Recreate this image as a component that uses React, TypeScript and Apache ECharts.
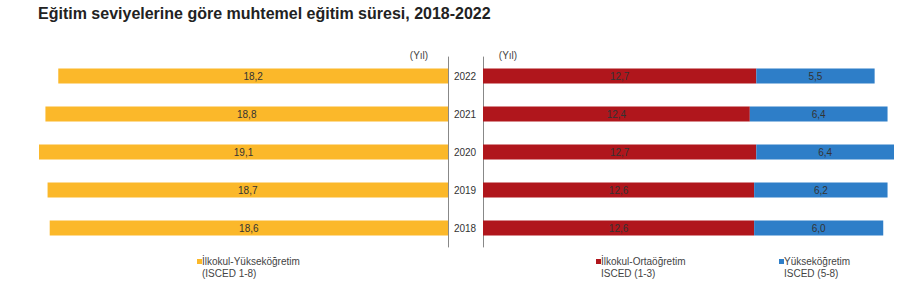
import React, { useEffect, useRef } from "react";
import * as echarts from "echarts";

const years = ["2018", "2019", "2020", "2021", "2022"];
const totalYears = [18.6, 18.7, 19.1, 18.8, 18.2];
const primarySecondary = [12.6, 12.6, 12.7, 12.4, 12.7];
const tertiary = [6.0, 6.2, 6.4, 6.4, 5.5];

const nameTotal = "İlkokul-Yükseköğretim";
const namePS = "İlkokul-Ortaöğretim";
const nameTer = "Yükseköğretim";
const legendSub: Record<string, string> = {
  [nameTotal]: "(ISCED 1-8)",
  [namePS]: "ISCED (1-3)",
  [nameTer]: "ISCED (5-8)",
};

const COLORS: Record<string, string> = {
  [nameTotal]: "#FBB82A",
  [namePS]: "#B0161C",
  [nameTer]: "#2E7EC8",
};

const FONT = "Liberation Sans, Arial, sans-serif";
const fmt = (v: number) => v.toFixed(1).replace(".", ",");

export default function App() {
  const ref = useRef<HTMLDivElement>(null);
  useEffect(() => {
    if (!ref.current) return;
    const chart = echarts.init(ref.current, undefined, { renderer: "svg" });
    const axisMax = Math.max(
      ...totalYears,
      ...primarySecondary.map((v, i) => v + tertiary[i])
    );
    const label = {
      show: true,
      position: "inside",
      color: "#333",
      fontSize: 10,
      fontFamily: FONT,
      formatter: (p: any) => fmt(p.value),
    };
    const legendItem = (name: string, x: number) => ({
      type: "group",
      x,
      y: 259,
      children: [
        { type: "rect", shape: { x: 0, y: 0, width: 5, height: 5 }, style: { fill: COLORS[name] } },
        {
          type: "text",
          x: 5,
          y: -4,
          style: {
            text: `${name}\n${legendSub[name]}`,
            fontSize: 10,
            lineHeight: 12,
            fontFamily: FONT,
            fill: "#444",
            align: "left",
            verticalAlign: "top",
          },
        },
      ],
    });
    const yilStyle = { fontSize: 10, fontFamily: FONT, fill: "#444", align: "center", verticalAlign: "middle" };
    chart.setOption({
      animation: false,
      title: {
        text: "Eğitim seviyelerine göre muhtemel eğitim süresi, 2018-2022",
        left: 33,
        top: 0,
        textStyle: { fontSize: 16, fontWeight: "bold", fontFamily: FONT, color: "#222" },
      },
      graphic: [
        { type: "text", x: 419, y: 55, style: { ...yilStyle, text: "(Yıl)" } },
        { type: "text", x: 508, y: 55, style: { ...yilStyle, text: "(Yıl)" } },
        legendItem(nameTotal, 197),
        legendItem(namePS, 596),
        legendItem(nameTer, 779),
      ],
      grid: [
        { left: 39, width: 409, top: 57, height: 190 },
        { left: 483, width: 411, top: 57, height: 190 },
      ],
      xAxis: [
        { type: "value", gridIndex: 0, inverse: true, min: 0, max: axisMax, show: false },
        { type: "value", gridIndex: 1, min: 0, max: axisMax, show: false },
      ],
      yAxis: [
        {
          type: "category",
          gridIndex: 0,
          data: years,
          position: "right",
          axisLine: { show: true, lineStyle: { color: "#888", width: 1 } },
          axisTick: { show: false },
          axisLabel: { show: false },
        },
        {
          type: "category",
          gridIndex: 1,
          data: years,
          position: "left",
          axisLine: { show: true, lineStyle: { color: "#888", width: 1 } },
          axisTick: { show: false },
          axisLabel: {
            show: true,
            align: "center",
            margin: 18,
            fontSize: 10,
            fontFamily: FONT,
            color: "#333",
          },
        },
      ],
      series: [
        {
          name: nameTotal,
          type: "bar",
          xAxisIndex: 0,
          yAxisIndex: 0,
          data: totalYears,
          barWidth: 15,
          itemStyle: { color: COLORS[nameTotal] },
          label,
        },
        {
          name: namePS,
          type: "bar",
          xAxisIndex: 1,
          yAxisIndex: 1,
          stack: "r",
          data: primarySecondary,
          barWidth: 15,
          itemStyle: { color: COLORS[namePS] },
          label,
        },
        {
          name: nameTer,
          type: "bar",
          xAxisIndex: 1,
          yAxisIndex: 1,
          stack: "r",
          data: tertiary,
          barWidth: 15,
          itemStyle: { color: COLORS[nameTer] },
          label,
        },
      ],
    });
    return () => chart.dispose();
  }, []);
  return (
    <div
      ref={ref}
      style={{ position: "absolute", left: 0, top: 0, width: 900, height: 297 }}
    />
  );
}
